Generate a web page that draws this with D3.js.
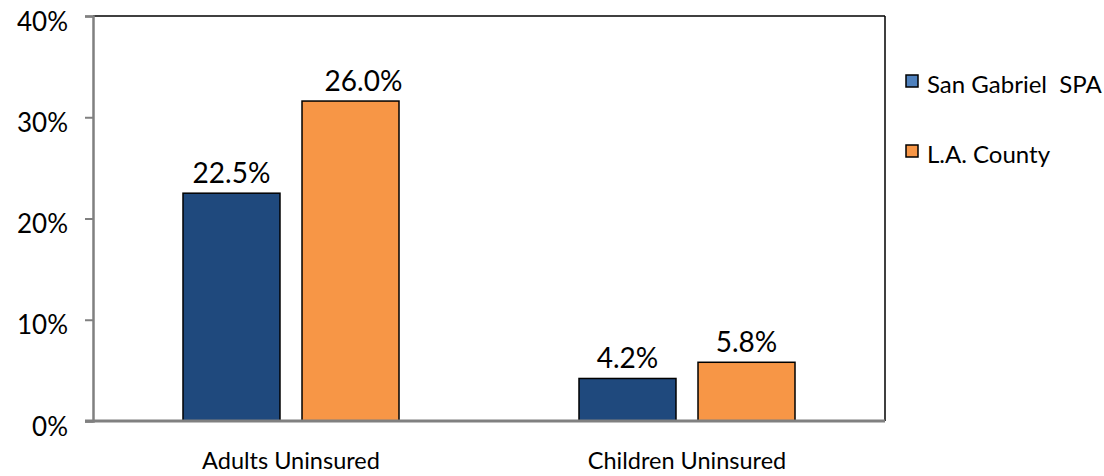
<!DOCTYPE html>
<html><head><meta charset="utf-8">
<script src="https://cdn.jsdelivr.net/npm/d3@7"></script>
<style>body{margin:0;background:#fff}svg{display:block}text{font-family:Lato,"Open Sans",sans-serif;fill:#000}</style>
</head><body><svg id="c" width="1104" height="476"></svg>
<script>
const categories = ["Adults Uninsured", "Children Uninsured"];
const seriesNames = ["San Gabriel  SPA", "L.A. County"];
const sanGabriel = [22.5, 4.2];
const laCounty = [31.6, 5.8];
const sanGabrielLabels = ["22.5%", "4.2%"];
const laCountyLabels = ["26.0%", "5.8%"];
const yTicks = [0, 10, 20, 30, 40];

const FONT = "Lato, 'Open Sans', sans-serif";
const barColors = ["#1f497d", "#f79646"];
const legendColors = ["#4f81bd", "#f79646"];
const svg = d3.select("#c");
const m = {l: 93, r: 885, t: 16, b: 421};
const x = d3.scaleBand().domain(categories).range([m.l, m.r]);
const y = d3.scaleLinear().domain([0, 40]).range([m.b, m.t]);
const x1 = d3.scaleBand().domain([0, 1]).range([0, 216]).paddingInner(0.185);

// frame top/right
svg.append("line").attr("x1", m.l).attr("x2", m.r).attr("y1", m.t).attr("y2", m.t).attr("stroke", "#000").attr("stroke-width", 1.5);
svg.append("line").attr("x1", m.r).attr("x2", m.r).attr("y1", m.t).attr("y2", m.b).attr("stroke", "#000").attr("stroke-width", 1.5);

const series = [sanGabriel, laCounty];
const labels = [sanGabrielLabels, laCountyLabels];
series.forEach((vals, s) => {
  const g = svg.append("g");
  g.selectAll("rect").data(vals).join("rect")
    .attr("x", (d, i) => x(categories[i]) + x.bandwidth()/2 - 108 + x1(s))
    .attr("y", d => y(d))
    .attr("width", x1.bandwidth())
    .attr("height", d => y(0) - y(d))
    .attr("fill", barColors[s]).attr("stroke", "#000").attr("stroke-width", 1.5);
  g.selectAll("text").data(vals).join("text")
    .attr("x", (d, i) => x(categories[i]) + x.bandwidth()/2 - 108 + x1(s) + x1.bandwidth()/2 + (s === 1 && i === 0 ? 13 : 0))
    .attr("y", d => y(d) - 10)
    .attr("text-anchor", "middle").attr("font-size", 28).attr("font-family", FONT)
    .text((d, i) => labels[s][i]);
});

// y axis
const ya = svg.append("g").attr("transform", `translate(${m.l},0)`)
  .call(d3.axisLeft(y).tickValues(yTicks).tickSize(8).tickFormat(d => d + "%"));
ya.select(".domain").attr("stroke", "#808080").attr("stroke-width", 2.5);
ya.selectAll(".tick line").attr("stroke", "#808080").attr("stroke-width", 2);
ya.selectAll(".tick text").attr("font-size", 26).attr("font-family", FONT)
  .attr("x", -25).attr("dy", null).attr("y", 14);

// x axis
const xa = svg.append("g").attr("transform", `translate(0,${m.b})`)
  .call(d3.axisBottom(x).tickSize(0));
xa.select(".domain").remove();
xa.selectAll(".tick text").attr("font-size", 23.5).attr("font-family", FONT).attr("dy", null).attr("y", 48);
svg.append("line").attr("x1", 85).attr("x2", m.r).attr("y1", m.b).attr("y2", m.b).attr("stroke", "#808080").attr("stroke-width", 3);

// legend
const lg = svg.append("g");
seriesNames.forEach((n, i) => {
  const yy = 81 + i * 70;
  lg.append("rect").attr("x", 906).attr("y", yy - 6).attr("width", 12).attr("height", 12)
    .attr("fill", legendColors[i]).attr("stroke", "#000").attr("stroke-width", 1.5);
  lg.append("text").attr("x", 927).attr("y", yy + 12).attr("font-size", 24).attr("font-family", FONT)
    .style("white-space", "pre").attr("xml:space", "preserve").text(n);
});
</script></body></html>
